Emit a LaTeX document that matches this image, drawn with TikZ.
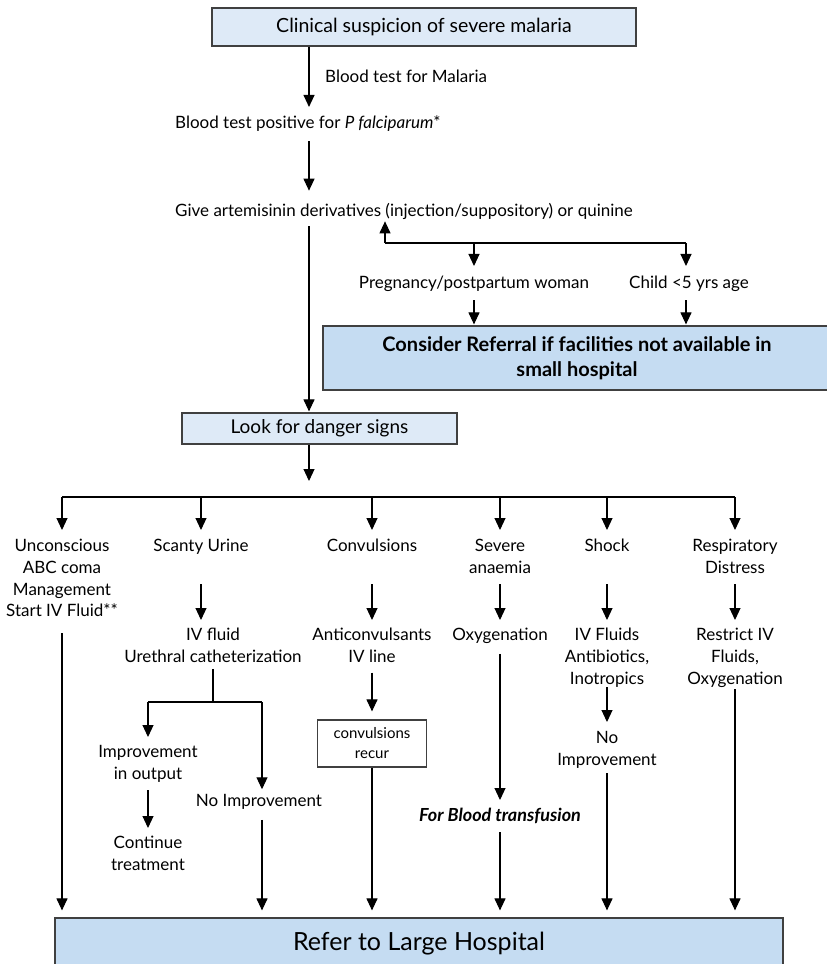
\documentclass[tikz,border=0pt]{standalone}
\usepackage{fontspec}
\setmainfont{Lato}
\usetikzlibrary{arrows.meta}
\definecolor{boxlight}{RGB}{222,234,247}
\definecolor{boxdark}{RGB}{197,220,242}
\begin{document}
\begin{tikzpicture}[x=1pt,y=-1pt,
  every node/.style={font=\fontsize{17}{21.7}\selectfont, align=center, inner sep=0pt},
  lbox/.style={draw=black!75, line width=1.2pt, fill=boxlight},
  dbox/.style={draw=black!75, line width=1.2pt, fill=boxdark},
  arr/.style={-{Triangle[length=12pt,width=11pt]}, line width=1.1pt},
  ln/.style={line width=1.1pt}]
\useasboundingbox (0,0) rectangle (827,964);
%\draw [help lines] (0,0) grid[step=50] (827,964);

% top part
\node[lbox, minimum width=424, minimum height=38, font=\fontsize{19.5}{23}\selectfont] (P0) at (424,27) {Clinical suspicion of severe malaria};
\node[anchor=west] (P1) at (325,76) {Blood test for Malaria};
\node[anchor=west] (P2) at (175,124) {Blood test positive for \textit{P falciparum}*};
\node[anchor=west] (P3) at (175,211) {Give artemisinin derivatives (injection/suppository) or quinine};
\node (P4) at (474,284) {Pregnancy/postpartum woman};
\node (P5) at (689,284) {Child <5 yrs age};
\node[dbox, minimum width=508, minimum height=64, font=\fontsize{20}{25}\selectfont\bfseries] (P6) at (577,358) {Consider Referral if facilities not available in\\small hospital};
\node[lbox, minimum width=275, minimum height=31, font=\fontsize{19}{21}\selectfont] (P7) at (319.5,428.5) {Look for danger signs};

% danger signs
\node[anchor=north] (Q1) at (62,539) {Unconscious\\ABC coma\\Management\\Start IV Fluid**};
\node[anchor=north] (Q2) at (201,539) {Scanty Urine};
\node[anchor=north] (Q3) at (372,539) {Convulsions};
\node[anchor=north] (Q4) at (500,539) {Severe\\anaemia};
\node[anchor=north] (Q5) at (607,539) {Shock};
\node[anchor=north] (Q6) at (735,539) {Respiratory\\Distress};

% first measures
\node[anchor=north] (R2) at (213,628) {IV fluid\\Urethral catheterization};
\node[anchor=north] (R3) at (372,628) {Anticonvulsants\\IV line};
\node[anchor=north] (R4) at (500,628) {Oxygenation};
\node[anchor=north] (R5) at (607,628) {IV Fluids\\Antibiotics,\\Inotropics};
\node[anchor=north] (R6) at (735,628) {Restrict IV\\Fluids,\\Oxygenation};

% outcomes
\node[anchor=north] (U1) at (148,745) {Improvement\\in output};
\node[anchor=north] (U2) at (148,836) {Continue\\treatment};
\node (U3) at (259,802) {No Improvement};
\node[draw=black!75, line width=1.2pt, minimum width=109, minimum height=47, font=\fontsize{15}{20}\selectfont] (K) at (372,743.5) {convulsions\\recur};
\node[font=\fontsize{18}{20}\selectfont\bfseries\itshape] (V) at (500,816) {For Blood transfusion};
\node[anchor=north] (W) at (607,731) {No\\Improvement};

\node[dbox, minimum width=728, minimum height=52, font=\fontsize{25}{28}\selectfont] (H) at (419,944) {Refer to Large Hospital};

% helper points
\coordinate (m) at (309,0);
\coordinate (b1) at (385,243);
\coordinate (b2) at (686,243);
\coordinate (sp) at (309,497);
\coordinate (s1) at (62,497);
\coordinate (s6) at (735,497);
\coordinate (r1) at (0,584);
\coordinate (c0) at (213,702);
\coordinate (c1) at (148,702);
\coordinate (c2) at (262,702);

% main line
\draw[arr, shorten >=9pt] (P0.south -| m) -- (P2.north -| m);
\draw[arr, shorten <=9pt, shorten >=12pt] (P2.south -| m) -- (P3.north -| m);
\draw[arr, shorten <=7pt, shorten >=1pt] (P3.south -| m) -- (P7.north -| m);
\draw[arr, shorten >=16pt] (P7.south -| m) -- (sp);

% special groups
\draw[arr, shorten >=2pt] (b1) -- (P3.south -| b1);
\draw[ln] (b1) -- (b2);
\draw[arr, shorten >=10pt] (b1 -| P4) -- (P4.north);
\draw[arr, shorten >=10pt] (b2) -- (P5.north -| b2);
\draw[arr, shorten <=8pt, shorten >=1pt] (P4.south) -- (P6.north -| P4);
\draw[arr, shorten <=8pt, shorten >=1pt] (P5.south -| b2) -- (P6.north -| b2);

% danger signs
\draw[ln] (s1) -- (s6);
\foreach \q in {Q1,Q2,Q3,Q4,Q5,Q6}
  \draw[arr, shorten >=9pt] (s1 -| \q) -- (\q.north);
\foreach \q/\r in {Q2/R2,Q3/R3,Q4/R4,Q5/R5,Q6/R6}
  \draw[arr, shorten >=8pt] (r1 -| \q) -- (\r.north -| \q);

% scanty urine
\draw[ln, shorten <=6pt] (R2.south) -- (c0);
\draw[ln] (c1) -- (c2);
\draw[arr, shorten >=8pt] (c1) -- (U1.north);
\draw[arr, shorten >=5pt] (c2) -- (U3.north -| c2);
\draw[arr, shorten <=8pt, shorten >=8pt] (U1) -- (U2);

% convulsions
\draw[arr, shorten <=10pt, shorten >=8pt] (R3.south) -- (K.north);
% anaemia
\draw[arr, shorten <=10pt, shorten >=8pt] (R4.south) -- (V.north);
% shock
\draw[arr, shorten >=9pt] (R5.south) -- (W.north);

% to large hospital
\draw[arr, shorten <=16pt, shorten >=7pt] (Q1.south) -- (H.north -| Q1);
\draw[arr, shorten <=10pt, shorten >=7pt] (U3.south -| c2) -- (H.north -| c2);
\draw[arr, shorten >=7pt] (K.south) -- (H.north -| K);
\draw[arr, shorten <=8pt, shorten >=7pt] (V.south) -- (H.north -| V);
\draw[arr, shorten <=5pt, shorten >=7pt] (W.south) -- (H.north -| W);
\draw[arr, shorten <=2pt, shorten >=7pt] (R6.south) -- (H.north -| R6);
\end{tikzpicture}
\end{document}
